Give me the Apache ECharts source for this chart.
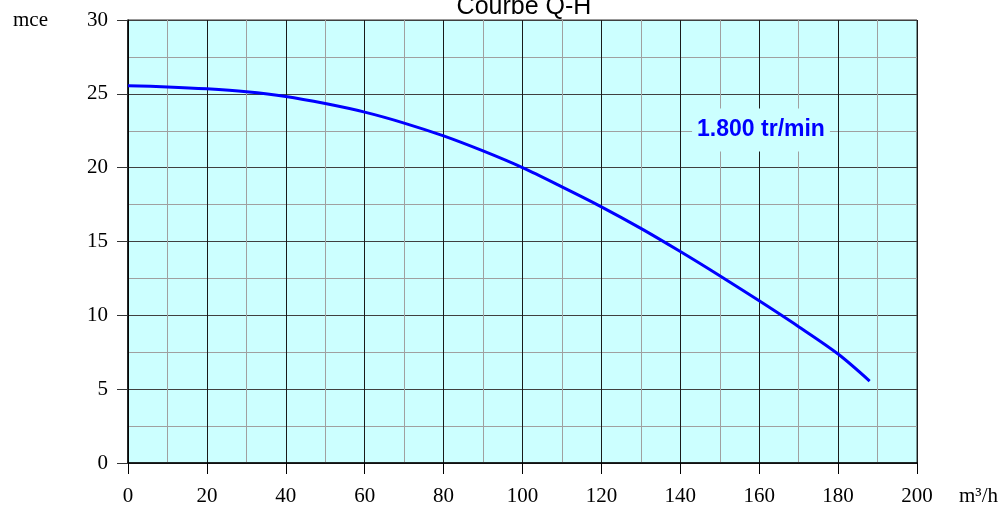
<!DOCTYPE html>
<html>
<head>
<meta charset="utf-8">
<title>Courbe Q-H</title>
<script src="https://cdn.jsdelivr.net/npm/echarts@6/dist/echarts.min.js"></script>
<style>
  html, body { margin: 0; padding: 0; background: #fff; }
  #chart { width: 1000px; height: 506px; }
</style>
</head>
<body>
<div id="chart"></div>
<script>
// Débit (m³/h) et hauteur manométrique (mce)
const debit   = [0, 10, 20, 30, 40, 50, 60, 70, 80, 90, 100, 110, 120, 130, 140, 150, 160, 170, 180, 188];
const hauteur = [25.55, 25.47, 25.34, 25.14, 24.82, 24.34, 23.76, 23.02, 22.15, 21.13, 20.0,
                 18.7, 17.35, 15.89, 14.32, 12.68, 10.98, 9.23, 7.38, 5.55];
const vitesse = '1.800 tr/min';

const SERIF = "'Liberation Serif', 'DejaVu Serif', serif";
const SANS  = "'Liberation Sans', Arial, sans-serif";
const BG = '#ccffff';

const chart = echarts.init(document.getElementById('chart'));

chart.setOption({
    animation: false,
    title: {
        text: 'Courbe Q-H',
        left: 519,
        textAlign: 'center',
        top: -10,
        textStyle: { fontFamily: SANS, fontSize: 25, fontWeight: 'normal', color: '#000' },
    },
    grid: {
        left: 128, right: 83, top: 20, bottom: 43,
        outerBoundsMode: 'none',
        show: true,
        backgroundColor: BG,
        borderColor: '#333',
        borderWidth: 1,
    },
    xAxis: {
        type: 'value',
        min: 0, max: 200, interval: 20,
        name: 'm³/h',
        nameLocation: 'end',
        nameGap: 42,
        nameTextStyle: {
            fontFamily: SERIF, fontSize: 21, color: '#000',
            verticalAlign: 'top', padding: [23, 0, 0, 0],
        },
        axisLine: { show: true, onZero: false, lineStyle: { color: '#000', width: 1.5 } },
        axisTick: { show: true, length: 11, lineStyle: { color: '#000' } },
        axisLabel: { fontFamily: SERIF, fontSize: 21, color: '#000', margin: 23 },
        splitLine: { show: true, lineStyle: { color: '#1a1a1a', width: 1 } },
        minorTick: { show: false, splitNumber: 2 },
        minorSplitLine: { show: true, lineStyle: { color: '#a0a0a0', width: 1 } },
    },
    yAxis: {
        type: 'value',
        min: 0, max: 30, interval: 5,
        name: 'mce',
        nameLocation: 'end',
        nameGap: 0,
        nameTextStyle: {
            fontFamily: SERIF, fontSize: 21, color: '#000',
            align: 'right', verticalAlign: 'middle', padding: [0, 80, 0, 0],
        },
        axisLine: { show: true, lineStyle: { color: '#000', width: 1.5 } },
        axisTick: { show: true, length: 11, lineStyle: { color: '#333' } },
        axisLabel: { fontFamily: SERIF, fontSize: 21, color: '#000', margin: 20 },
        splitLine: { show: true, lineStyle: { color: '#404040', width: 1 } },
        minorTick: { show: false, splitNumber: 2 },
        minorSplitLine: { show: true, lineStyle: { color: '#a0a0a0', width: 1 } },
    },
    series: [{
        type: 'line',
        data: debit.map((q, i) => [q, hauteur[i]]),
        smooth: 0.3,
        showSymbol: false,
        lineStyle: { color: '#0000ff', width: 3 },
        z: 5,
    }],
    graphic: [{
        type: 'text',
        x: 761,
        y: 130,
        z: 10,
        style: {
            text: vitesse,
            fill: '#0000ff',
            font: 'bold 23px ' + SANS,
            align: 'center',
            verticalAlign: 'middle',
            backgroundColor: BG,
            padding: [10, 5, 10, 5],
        },
    }],
});
</script>
</body>
</html>
